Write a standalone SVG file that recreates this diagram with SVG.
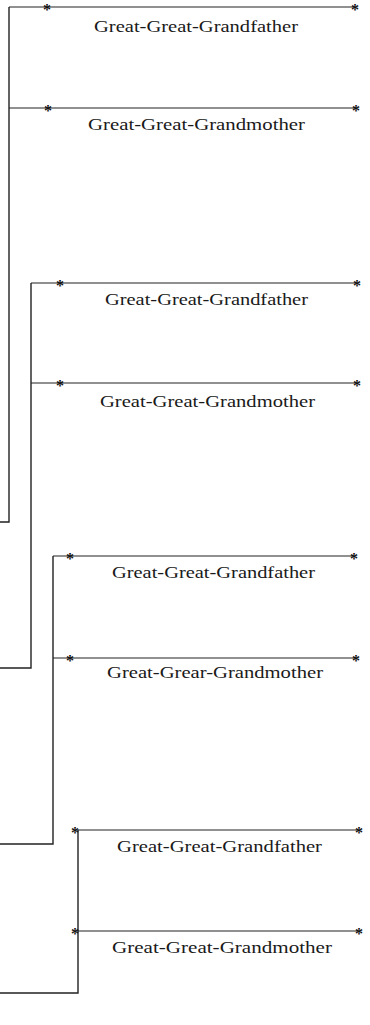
<svg xmlns="http://www.w3.org/2000/svg" width="370" height="1025" viewBox="0 0 370 1025">
<style>
.bg{fill:#fff}
.line{stroke:#222;stroke-width:1.2;fill:none}
.conn{stroke:#222;stroke-width:1.4;fill:none}
.star{font-family:"Liberation Serif",serif;font-size:16px;font-weight:bold;fill:#111;text-anchor:middle}
.lbl{font-family:"Liberation Serif",serif;font-size:16.5px;fill:#1a1a1a}
</style>
<rect class="bg" x="0" y="0" width="370" height="1025"/>
<g id="connectors">
<path class="conn" d="M9,7 V522 H0"/>
<path class="conn" d="M31,283 V668 H0"/>
<path class="conn" d="M53,556 V844 H0"/>
<path class="conn" d="M78,830 V993 H0"/>
</g>
<g id="node1">
<line class="line" x1="9" y1="7" x2="355" y2="7"/>
<text class="star" x="47" y="15">*</text><text class="star" x="355" y="15">*</text>
<text class="lbl" x="94" y="32" textLength="204" lengthAdjust="spacingAndGlyphs">Great-Great-Grandfather</text>
</g>
<g id="node2">
<line class="line" x1="9" y1="108" x2="356" y2="108"/>
<text class="star" x="48" y="116">*</text><text class="star" x="356" y="116">*</text>
<text class="lbl" x="88" y="130" textLength="217" lengthAdjust="spacingAndGlyphs">Great-Great-Grandmother</text>
</g>
<g id="node3">
<line class="line" x1="31" y1="283" x2="357" y2="283"/>
<text class="star" x="60" y="291">*</text><text class="star" x="357" y="291">*</text>
<text class="lbl" x="105" y="305" textLength="203" lengthAdjust="spacingAndGlyphs">Great-Great-Grandfather</text>
</g>
<g id="node4">
<line class="line" x1="31" y1="383" x2="357" y2="383"/>
<text class="star" x="60" y="391">*</text><text class="star" x="357" y="391">*</text>
<text class="lbl" x="100" y="407" textLength="215" lengthAdjust="spacingAndGlyphs">Great-Great-Grandmother</text>
</g>
<g id="node5">
<line class="line" x1="53" y1="556" x2="354" y2="556"/>
<text class="star" x="70" y="564">*</text><text class="star" x="354" y="564">*</text>
<text class="lbl" x="112" y="578" textLength="203" lengthAdjust="spacingAndGlyphs">Great-Great-Grandfather</text>
</g>
<g id="node6">
<line class="line" x1="53" y1="658" x2="356" y2="658"/>
<text class="star" x="70" y="666">*</text><text class="star" x="356" y="666">*</text>
<text class="lbl" x="107" y="678" textLength="216" lengthAdjust="spacingAndGlyphs">Great-Grear-Grandmother</text>
</g>
<g id="node7">
<line class="line" x1="78" y1="830" x2="358" y2="830"/>
<text class="star" x="75" y="838">*</text><text class="star" x="359" y="838">*</text>
<text class="lbl" x="117" y="852" textLength="205" lengthAdjust="spacingAndGlyphs">Great-Great-Grandfather</text>
</g>
<g id="node8">
<line class="line" x1="78" y1="931" x2="358" y2="931"/>
<text class="star" x="75" y="939">*</text><text class="star" x="359" y="939">*</text>
<text class="lbl" x="112" y="953" textLength="220" lengthAdjust="spacingAndGlyphs">Great-Great-Grandmother</text>
</g>
</svg>
